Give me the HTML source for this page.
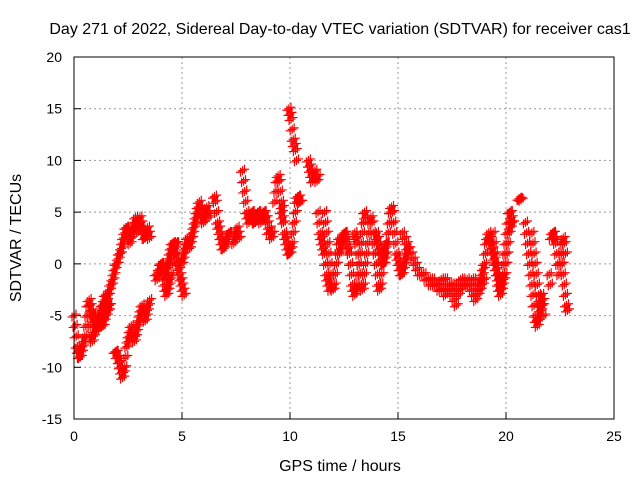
<!DOCTYPE html>
<html><head><meta charset="utf-8"><style>
body{margin:0;background:#fff}
svg{display:block;font-family:"Liberation Sans",sans-serif}
</style></head><body>
<svg id="chart" width="640" height="480" viewBox="0 0 640 480">
<rect width="640" height="480" fill="#fff"/>
<text x="340" y="34" font-size="16" text-anchor="middle">Day 271 of 2022, Sidereal Day-to-day VTEC variation (SDTVAR) for receiver cas1</text>
<g id="grid"></g>
<g id="ticks" font-size="14"></g>
<g id="marks" stroke="#f00" stroke-width="1.2"></g>
<rect x="74" y="57" width="540" height="362" fill="none" stroke="#000"/>
<text x="340" y="471" font-size="16" text-anchor="middle">GPS time / hours</text>
<text transform="translate(21,238) rotate(-90)" font-size="16" text-anchor="middle">SDTVAR / TECUs</text>
</svg>
<script>
const xTicks=[0,5,10,15,20,25];
const yTicks=[-15,-10,-5,0,5,10,15,20];
const tracks=[
[0,0.05,[-5,-6,-7,-8,-8.5,-9,-9,-8.5,-8,-7.5,-7,-6,-5,-4,-5,-6,-7,-7.5,-7,-6.5,-6,-6,-5.5,-5,-5,-5.5,-6,-6,-5.5,-5,-5,-4.5,-4]],
[1.2,0.05,[-6,-5.5,-5,-5,-4.5,-4,-3.5,-3,-3,-2.5,-2,-2,-1.5,-1,-0.5,0,0,0.5,1,1,1.5,2,2.5,3,3.5,3.5,3,2.5,2,2.5,3,3.5,4,4.5]],
[0.7,0.05,[-3.5,-4,-4.5,-5,-5,-5.5,-6,-6.5,-6,-5.5,-5,-4.5,-4,-4,-3.5,-3,-3.5,-4,-4.5,-4]],
[1.9,0.05,[-8.5,-8.5,-9,-9,-9.5,-10,-10.5,-11,-10.5,-10,-9,-8,-7.5,-7,-6.5,-6,-6.5,-7,-7.5,-7,-6.5,-6,-5.5,-5,-4.5,-4,-4.5,-5,-5.5,-5,-4.5,-4,-3.5]],
[2.9,0.05,[3,3.5,4,4.5,4,3.5,3,2.5,2.5,3,3.5,3,2.5]],
[3.8,0.05,[-1,-1.5,-1,-0.5,0,0,-0.5,-1,-1.5,-1,-0.5,0,0.5,1,1.5,2,2,1.5,1,0.5,0,-0.5,-1,-1.5,-2,-2.5,-3]],
[4.2,0.05,[-2,-2.5,-3,-2.5,-2,-1.5,-1,0,1,1.5,2,2]],
[5.0,0.05,[0,0.5,1,1.5,2,2.5,2,1.5,2,2.5,3,3.5,4,4.5,5,5.5,6,5.5,5,4.5,4,4.5,5,5.5,5,4.5]],
[6.5,0.05,[6.5,6,5,4,3.5,3,2.5,2,1.5,1.5,2,2,2.5,3,3]],
[7.4,0.05,[2,2.5,3,3.5,3,2.5]],
[7.8,0.05,[9,8,7,6,5,4.5,4,4.5,5,5,4.5,4,4,4.5,5,5,4.5,4,4.5,5,5,4.5,4.5,4]],
[9.0,0.05,[3,3.5,3,2.5,3]],
[9.3,0.05,[6,7,8,8.5,8,7,6,5.5]],
[9.6,0.05,[5,4.5,4,3,2.5,2,1.5,1,1,1.5,2,3,4,5,6,6.5,6.5,6,6]],
[9.95,0.05,[15,14.5,14,13,12,11.5,11,10]],
[10.85,0.05,[10,9.5,9,8.5,8,8.5,9,8.5,8,8.5]],
[11.6,0.05,[5,4,3,2,1,0,-1,-2,-2.5,-2,-1,0,1,2,2.5]],
[11.3,0.05,[5,4,3,2.5,2,1.5,1,0,-1,-1.5,-2,-2.5]],
[12.3,0.05,[1,1.5,2,2.5,3,3,2.5,2,1.5,1,0,-1,-2,-2.5,-3,-2.5,-2,-1,0,1,2,3,4,5,4.5]],
[13.0,0.05,[3,2.5,2,1,0,-1,-2,-2.5,-2,-1,0,1,2,3,4,4.5,4,3,2,1,0,-1,-2,-2.5,-2,-1,0,1,1.5,2]],
[14.0,0.05,[3,2.5,2,1.5,1,0.5,0,0,0.5,1,2,3,4,5,5.5,5,4,3,2,1,0.5,0,-0.5,-1,-1,-0.5,0,0.5,1,1.5]],
[15.2,0.1,[3,2.5,2,1.5,1,0.5,0,-0.5,-1,-1,-1,-1.5,-1.5,-2,-2,-2,-2,-2.5,-2.5,-2.5,-3,-2.5,-2,-2,-2,-2.5,-3,-2.5,-2,-2,-1.5,-2,-2.5,-3,-3.5,-3,-2.5,-2,-1.5]],
[16.5,0.1,[-1.5,-1.5,-2,-2,-2,-1.5,-1.5,-1.5,-2,-2.5,-3,-3.5,-4,-2,-1.5,-1.5,-2,-2,-2,-1.5,-1.5,-2,-2,-2.5,-2]],
[18.8,0.05,[-2,-1.5,-1,-0.5,0,1,2,2.5,3,2.5,2,1.5,1,0.5,0,-0.5,-1,-1.5,-2,-2,-1.5,-1,0,1,2,3,4,5,5,4.5,4]],
[19.4,0.05,[3,2,1,0,-1,-2,-2.5,-3,-2.5,-2,-1.5,-1,0,1,2,3,3.5,4,4]],
[20.6,0.05,[6.3,6.3,6.2]],
[20.9,0.05,[4,3,2,1,0,-1,-2,-3,-4,-5,-5.5,-6,-5.5,-5,-4.5,-4,-3.5]],
[21.2,0.05,[3,2,1,0,-1,-2,-3,-4,-3.5,-3,-4,-5]],
[22.0,0.05,[-1,-2,2.5,3,3,2.5,2,1,0,-1,0,1,2,2.5,2,1]],
[22.55,0.05,[1,0,-1,-2,-3,-4,-4.5]]
];
const NS="http://www.w3.org/2000/svg";
const X=t=>74+t*540/25, Y=v=>419-(v+15)*362/35;
const grid=document.getElementById('grid'),ticks=document.getElementById('ticks'),marks=document.getElementById('marks');
function mk(tag,attrs,parent){const e=document.createElementNS(NS,tag);for(const k in attrs)e.setAttribute(k,attrs[k]);parent.appendChild(e);return e;}
xTicks.forEach(t=>{
 if(t>0&&t<25){const l=mk('line',{x1:X(t),x2:X(t),y1:57,y2:419,stroke:'#999','stroke-dasharray':'2,3'},grid);
 
 }
 const a=mk('line',{x1:X(t),x2:X(t),y1:419,y2:412,stroke:'#000'},grid);
 
 
 const tx=mk('text',{x:X(t),y:441,'text-anchor':'middle'},ticks);tx.textContent=t;
 
 
});
yTicks.forEach(v=>{
 if(v>-15&&v<20){const l=mk('line',{x1:74,x2:614,y1:Y(v),y2:Y(v),stroke:'#999','stroke-dasharray':'2,3'},grid);
 
 }
 const a=mk('line',{x1:74,x2:81,y1:Y(v),y2:Y(v),stroke:'#000'},grid);
 
 
 const tx=mk('text',{x:62,y:Y(v)+5,'text-anchor':'end'},ticks);tx.textContent=v;
 
 
});
const offs=[[0,0],[-2,1.5],[2,-1.5]];
tracks.forEach(tr=>{
 const [t0,dt,vals]=tr;
 vals.forEach((v,i)=>{
  const x=X(t0+i*dt),y=Y(v);
  let d='';
  offs.forEach(o=>{const px=x+o[0],py=y+o[1];d+=`M${px-4.5},${py}h9M${px},${py-4.5}v9`;});
  const p=mk('path',{d:d},marks);
  
  
 });
});
</script>
</body></html>
